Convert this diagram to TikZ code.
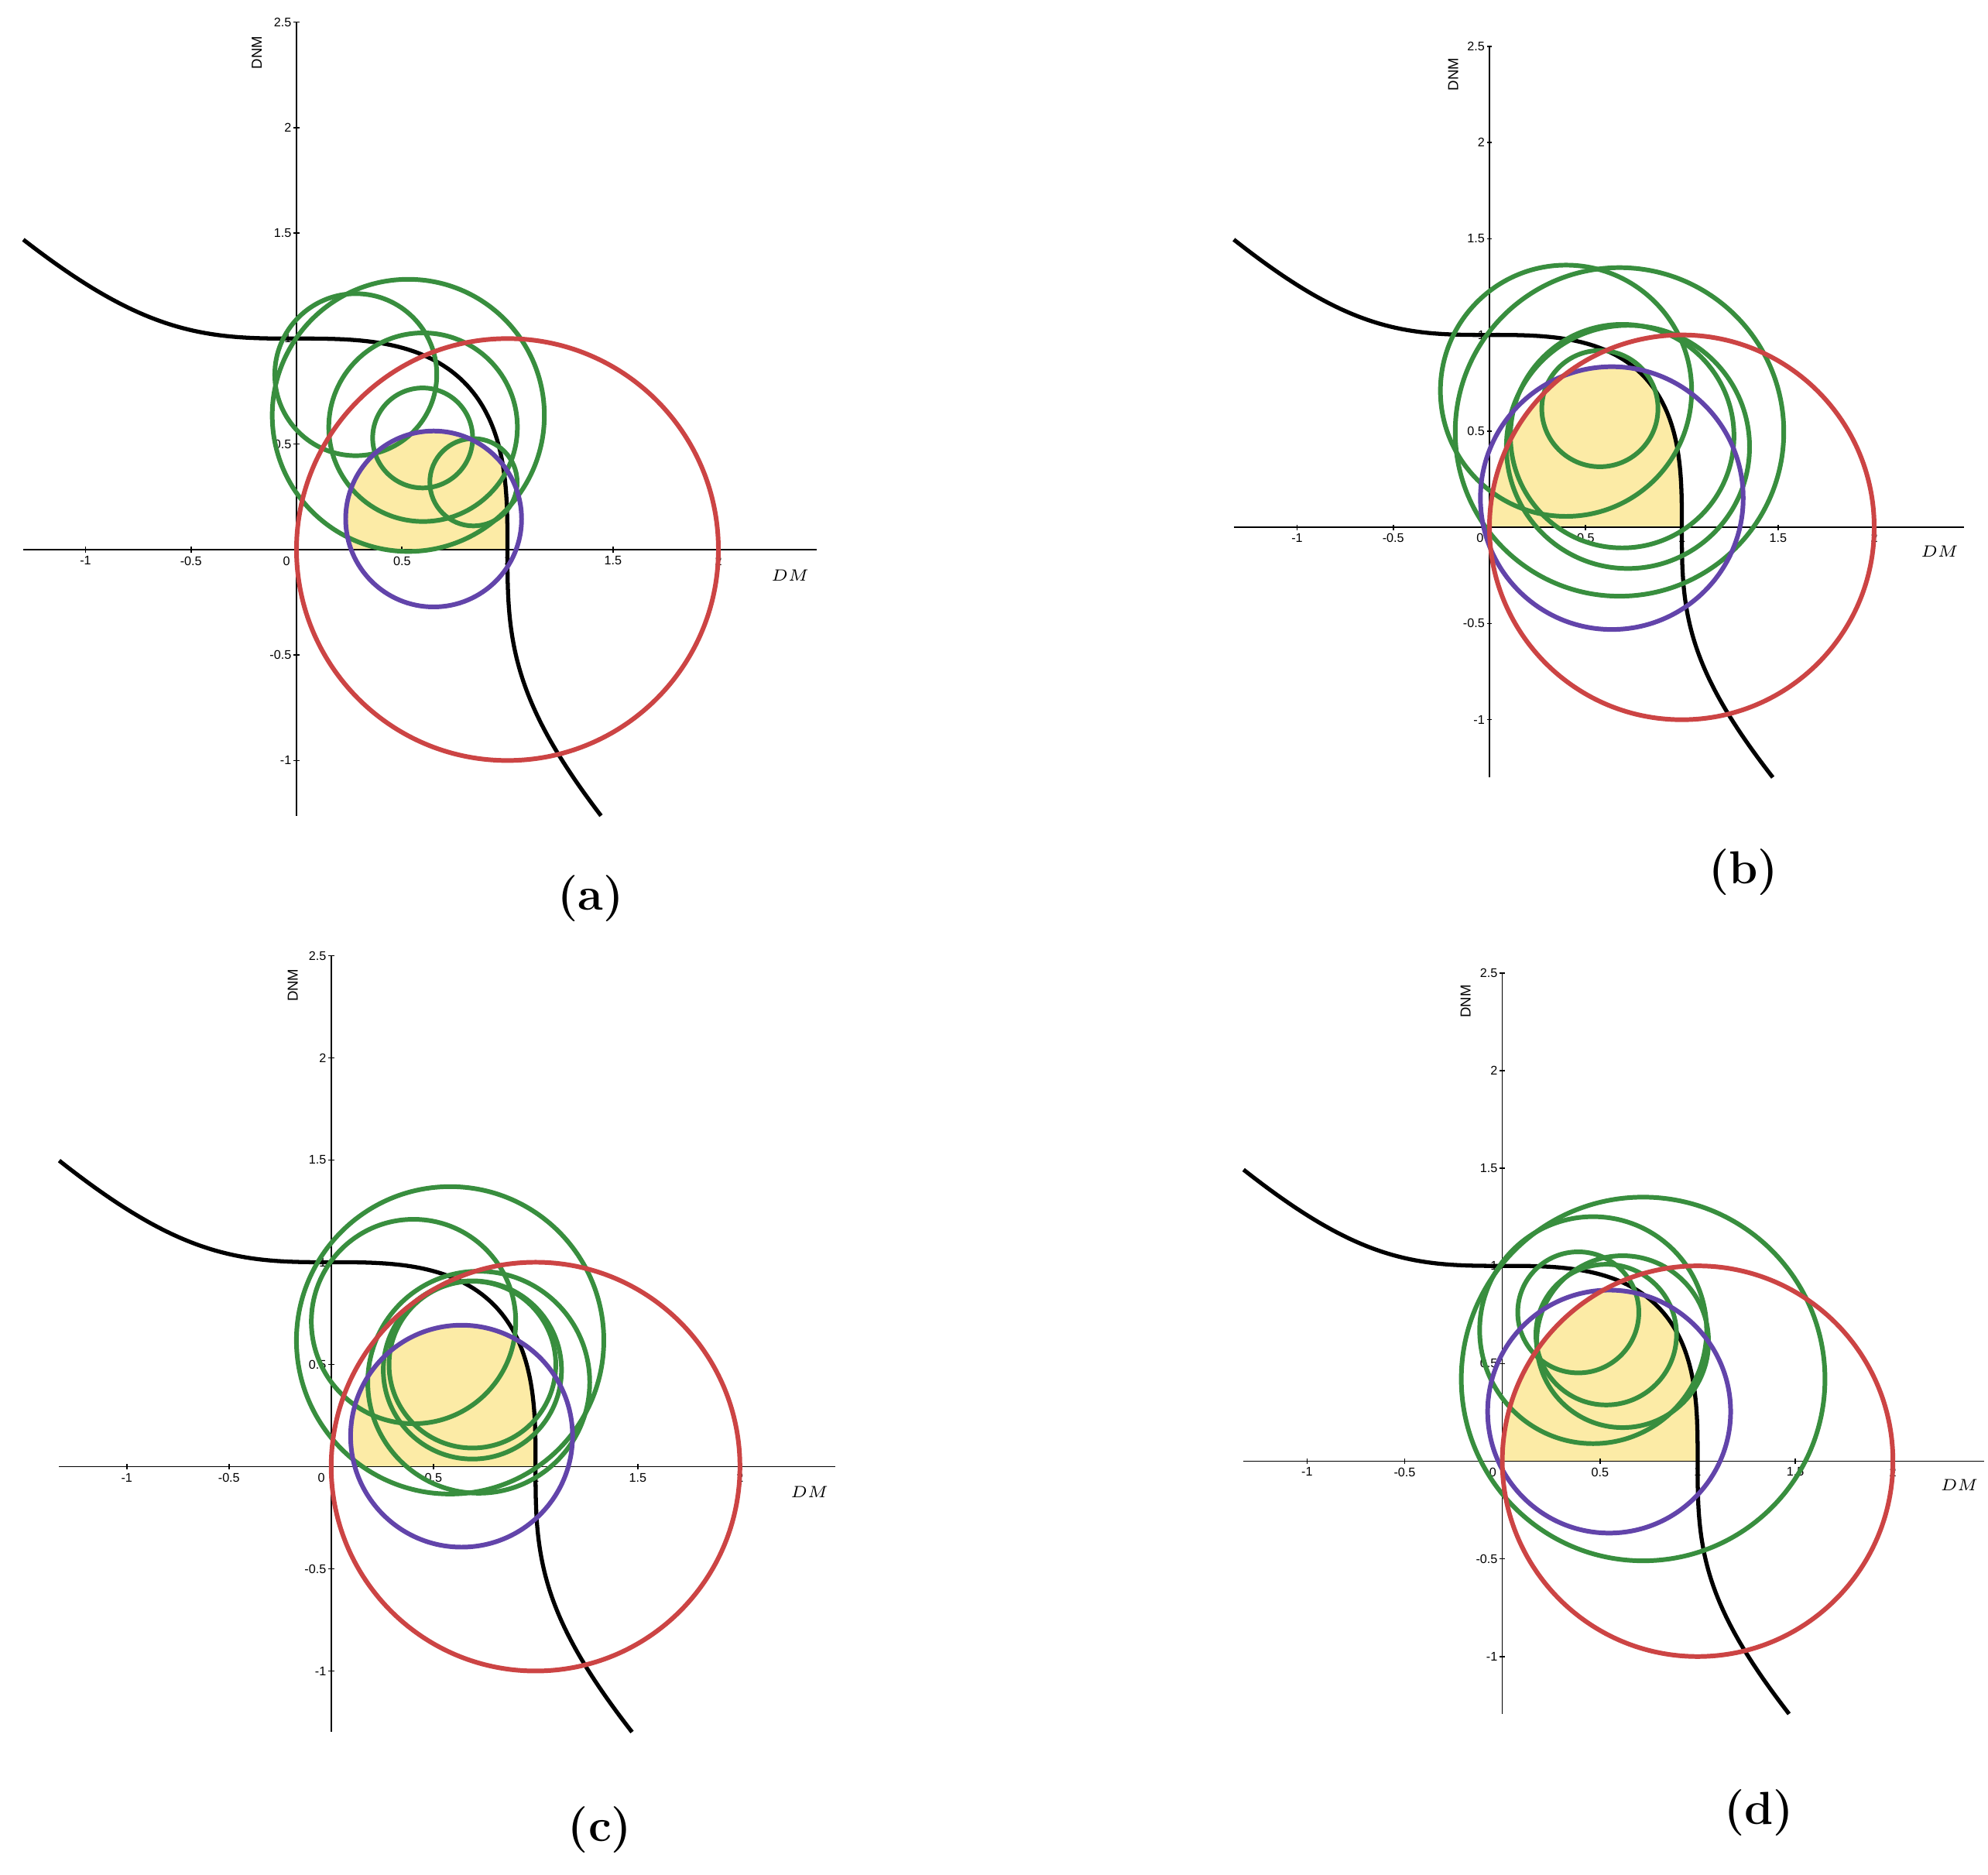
\documentclass[tikz,border=0pt]{standalone}
\usepackage{fontspec}
\newfontfamily\lsans{Liberation Sans}
\definecolor{ggred}{RGB}{204,68,68}
\definecolor{gggreen}{RGB}{56,142,62}
\definecolor{ggpurple}{RGB}{98,68,170}
\definecolor{ggyel}{RGB}{252,235,166}
\tikzset{
  declare function={cb(\u)=(1-(\u)*(\u)*(\u))^(1/3);},
  axisline/.style={line width=0.45pt, black},
  curveline/.style={line width=1.5pt, black},
  grn/.style={line width=1.7pt, gggreen},
  prp/.style={line width=1.7pt, ggpurple},
  rdc/.style={line width=1.7pt, ggred},
  ticklab/.style={font=\lsans\fontsize{4.6}{5}\selectfont, inner sep=0pt},
  dnmlab/.style={font=\lsans\fontsize{5.3}{6}\selectfont, inner sep=0pt, rotate=90},
  dmlab/.style={font=\fontsize{6.5}{7}\selectfont, inner sep=0pt},
  caplab/.style={font=\bfseries\fontsize{17}{20}\selectfont, inner sep=0pt},
  panelA/.style={shift={(3.830cm,17.121cm)}, x=2.725cm, y=2.725cm},
  panelB/.style={shift={(19.240cm,17.408cm)}, x=2.485cm, y=2.485cm},
  panelC/.style={shift={(4.278cm,5.275cm)}, x=2.640cm, y=2.640cm},
  panelD/.style={shift={(19.406cm,5.345cm)}, x=2.523cm, y=2.523cm},
}
% #1 id, #2 xmin, #3 ymin, #4 #5 #6 purple centre and radius
\newcommand\gpanel[6]{%
  \begin{scope}
    \clip (1,0) circle[radius=1];
    \clip (#4,#5) circle[radius=#6];
    \clip (0,0) -- plot[domain=0:0.7937,samples=60] (\x,{cb(\x)})
      -- plot[domain=0:1,samples=60] ({cb(0.7937-0.7937*\x)},{0.7937-0.7937*\x}) -- cycle;
    \fill[ggyel] (-0.1,-0.1) rectangle (2.1,2.1);
  \end{scope}
  \coordinate (#1xl) at (#2,0);
  \coordinate (#1xr) at (2.465,0);
  \coordinate (#1yb) at (0,#3);
  \coordinate (#1yt) at (0,2.5);
  \draw[axisline] (#1xl) -- (#1xr);
  \draw[axisline] (#1yb) -- (#1yt);
  \foreach \t [count=\i] in {-1,-0.5,0.5,1,1.5,2}{
    \draw[axisline] (\t,-0.014) -- (\t,0.014);
    \node[ticklab, anchor=north] (#1tx\i) at (\t,-0.03) {\t};
  }
  \foreach \t [count=\i] in {-1,-0.5,0.5,1,1.5,2,2.5}{
    \draw[axisline] (-0.014,\t) -- (0.014,\t);
    \node[ticklab, anchor=east] (#1ty\i) at (-0.022,\t) {\t};
  }
  \node[ticklab, anchor=north east] (#1o) at (-0.028,-0.03) {0};
  \node[dnmlab] (#1dnm) at (-0.188,2.355) {DNM};
  \node[dmlab] (#1dm) at (2.34,-0.124) {$DM$};
  \draw[curveline] plot[domain=#2:0.7937,samples=110] (\x,{cb(\x)})
    -- plot[domain=0:1,samples=130] ({cb(0.7937-\x*(0.7937-(#3)))},{0.7937-\x*(0.7937-(#3))});
}
\begin{document}
\begin{tikzpicture}
\useasboundingbox (0,0) rectangle (25.68,24.22);
\fill[white] (0,0) rectangle (25.68,24.22);

% panel (a)
\begin{scope}[panelA]
  \gpanel{a}{-1.295}{-1.262}{0.650}{0.145}{0.417}
  \foreach \cx/\cy/\r in {0.530/0.636/0.645, 0.281/0.829/0.384, 0.600/0.580/0.447, 0.598/0.529/0.237, 0.839/0.319/0.207}
    \draw[grn] (\cx,\cy) circle[radius=\r];
  \draw[prp] (0.650,0.145) circle[radius=0.417];
  \draw[rdc] (1,0) circle[radius=1];
\end{scope}

% panel (b)
\begin{scope}[panelB]
  \gpanel{b}{-1.329}{-1.30}{0.636}{0.152}{0.683}
  \foreach \cx/\cy/\r in {0.398/0.710/0.653, 0.676/0.496/0.854, 0.720/0.418/0.632, 0.690/0.474/0.581, 0.574/0.617/0.302}
    \draw[grn] (\cx,\cy) circle[radius=\r];
  \draw[prp] (0.636,0.152) circle[radius=0.683];
  \draw[rdc] (1,0) circle[radius=1];
\end{scope}

% panel (c)
\begin{scope}[panelC]
  \gpanel{c}{-1.331}{-1.299}{0.638}{0.149}{0.543}
  \foreach \cx/\cy/\r in {0.582/0.618/0.752, 0.403/0.710/0.500, 0.722/0.413/0.543, 0.691/0.473/0.436, 0.691/0.499/0.408}
    \draw[grn] (\cx,\cy) circle[radius=\r];
  \draw[prp] (0.638,0.149) circle[radius=0.543];
  \draw[rdc] (1,0) circle[radius=1];
\end{scope}

% panel (d)
\begin{scope}[panelD]
  \gpanel{d}{-1.325}{-1.294}{0.547}{0.254}{0.622}
  \foreach \cx/\cy/\r in {0.721/0.421/0.931, 0.465/0.671/0.581, 0.389/0.762/0.310, 0.616/0.612/0.440, 0.532/0.648/0.360}
    \draw[grn] (\cx,\cy) circle[radius=\r];
  \draw[prp] (0.547,0.254) circle[radius=0.622];
  \draw[rdc] (1,0) circle[radius=1];
\end{scope}

\node[caplab] (capa) at (7.63,12.61) {(a)};
\node[caplab] (capb) at (22.52,12.95) {(b)};
\node[caplab] (capc) at (7.75,0.58) {(c)};
\node[caplab] (capd) at (22.72,0.80) {(d)};
\end{tikzpicture}
\end{document}
